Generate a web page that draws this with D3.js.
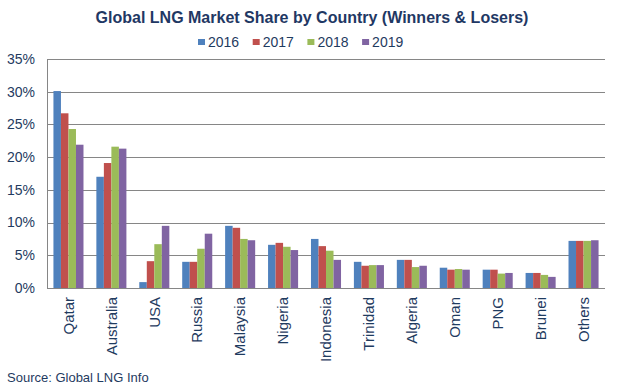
<!DOCTYPE html>
<html>
<head>
<meta charset="utf-8">
<script src="https://cdn.jsdelivr.net/npm/d3@7"></script>
<style>
  body { margin: 0; background: #fff; }
  text { font-family: "Liberation Sans", Arial, sans-serif; }
</style>
</head>
<body>
<div id="chart"></div>
<script>
// Data (% share)
const countries = ["Qatar", "Australia", "USA", "Russia", "Malaysia", "Nigeria", "Indonesia",
  "Trinidad", "Algeria", "Oman", "PNG", "Brunei", "Others"];
const years = ["2016", "2017", "2018", "2019"];
const share2016 = [30.1, 17.0, 0.9, 4.0, 9.5, 6.6, 7.5, 4.0, 4.3, 3.1, 2.8, 2.3, 7.2];
const share2017 = [26.7, 19.1, 4.1, 4.0, 9.2, 6.9, 6.4, 3.4, 4.3, 2.8, 2.8, 2.3, 7.2];
const share2018 = [24.3, 21.6, 6.7, 6.0, 7.5, 6.3, 5.7, 3.5, 3.2, 2.9, 2.2, 2.0, 7.2];
const share2019 = [21.9, 21.3, 9.5, 8.3, 7.3, 5.8, 4.3, 3.5, 3.4, 2.8, 2.3, 1.7, 7.3];
const yTicks = [0, 5, 10, 15, 20, 25, 30, 35];
const colors = ["#4F81BD", "#C0504D", "#9BBB59", "#8064A2"];

const seriesValues = [share2016, share2017, share2018, share2019];
const rows = countries.map((c, i) => ({ country: c, values: seriesValues.map(s => s[i]) }));

const width = 620, height = 390;
const plotLeft = 47, plotRight = 605, plotTop = 59, plotBottom = 288;
const textColor = "#1F3B5F";

const svg = d3.select("#chart").append("svg")
  .attr("width", width)
  .attr("height", height);

const x0 = d3.scaleBand().domain(countries).range([plotLeft, plotRight])
  .paddingInner(0.3).paddingOuter(0.15);
const x1 = d3.scaleBand().domain(years).range([0, x0.bandwidth()]);
const y = d3.scaleLinear().domain([0, 35]).range([plotBottom, plotTop]);

// gridlines
svg.append("g")
  .selectAll("line")
  .data(yTicks)
  .join("line")
  .attr("x1", plotLeft).attr("x2", plotRight)
  .attr("y1", d => Math.round(y(d)) + 0.5).attr("y2", d => Math.round(y(d)) + 0.5)
  .attr("stroke", "#868686")
  .attr("stroke-width", 1);

// y axis line
svg.append("line")
  .attr("x1", plotLeft + 0.5).attr("x2", plotLeft + 0.5)
  .attr("y1", plotTop).attr("y2", plotBottom + 1)
  .attr("stroke", "#868686");

// y tick labels
svg.append("g")
  .selectAll("text")
  .data(yTicks)
  .join("text")
  .attr("x", 35)
  .attr("y", d => y(d))
  .attr("dy", "0.35em")
  .attr("text-anchor", "end")
  .attr("font-size", 14)
  .attr("fill", textColor)
  .text(d => d + "%");

// bars
const groups = svg.append("g")
  .selectAll("g")
  .data(rows)
  .join("g")
  .attr("transform", d => `translate(${x0(d.country)},0)`);

groups.selectAll("rect")
  .data(d => d.values.map((v, i) => ({ year: years[i], value: v, idx: i })))
  .join("rect")
  .attr("x", d => x1(d.year))
  .attr("y", d => y(d.value))
  .attr("width", x1.bandwidth())
  .attr("height", d => plotBottom - y(d.value))
  .attr("fill", d => colors[d.idx]);

// x labels (rotated)
svg.append("g")
  .selectAll("text")
  .data(countries)
  .join("text")
  .attr("transform", d => `translate(${x0(d) + x0.bandwidth() / 2},297) rotate(-90)`)
  .attr("dy", "0.35em")
  .attr("text-anchor", "end")
  .attr("font-size", 15)
  .attr("fill", textColor)
  .text(d => d);

// title
svg.append("text")
  .attr("x", 312)
  .attr("y", 23)
  .attr("text-anchor", "middle")
  .attr("font-size", 16)
  .attr("font-weight", "bold")
  .attr("fill", "#1F3864")
  .text("Global LNG Market Share by Country (Winners & Losers)");

// legend
const legend = svg.append("g")
  .selectAll("g")
  .data(years)
  .join("g")
  .attr("transform", (d, i) => `translate(${198 + i * 54.7},42)`);

legend.append("rect")
  .attr("x", 0).attr("y", -3)
  .attr("width", 7).attr("height", 6)
  .attr("fill", (d, i) => colors[i]);

legend.append("text")
  .attr("x", 10)
  .attr("dy", "0.35em")
  .attr("font-size", 14)
  .attr("fill", textColor)
  .text(d => d);

// source
svg.append("text")
  .attr("x", 7)
  .attr("y", 382)
  .attr("font-size", 13)
  .attr("fill", textColor)
  .text("Source: Global LNG Info");
</script>
</body>
</html>
